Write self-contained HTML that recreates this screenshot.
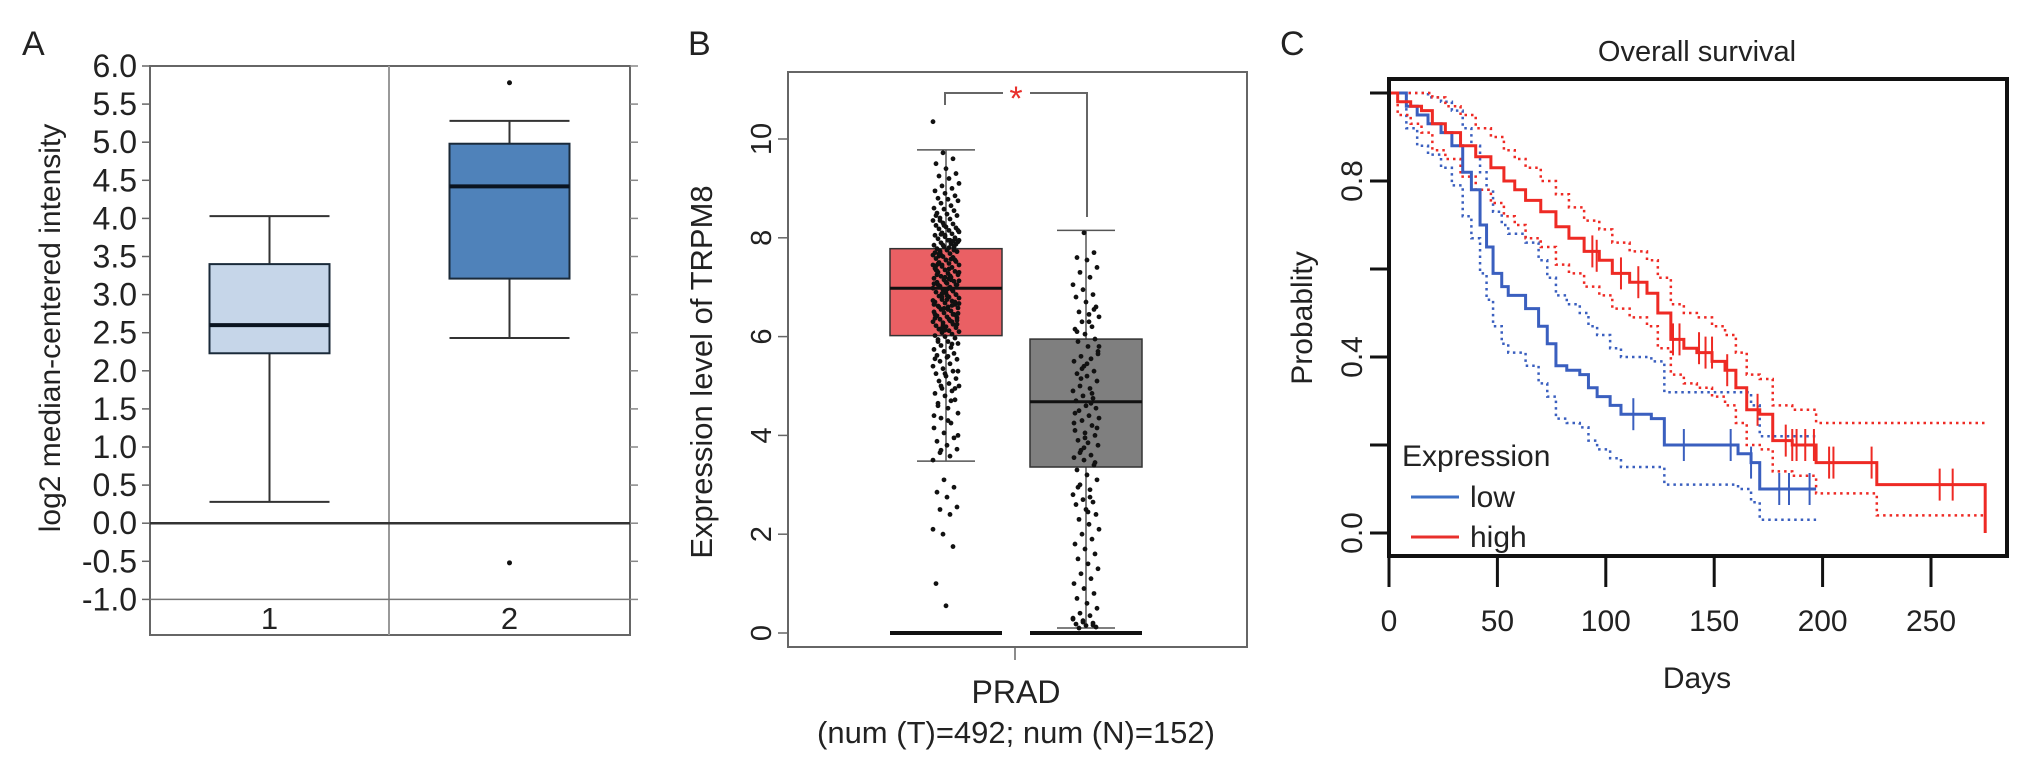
<!DOCTYPE html>
<html><head><meta charset="utf-8"><style>
html,body{margin:0;padding:0;background:#fff;}
svg{display:block;font-family:"Liberation Sans",Arial,sans-serif;}
</style></head><body>
<svg id="fig" width="2031" height="770" viewBox="0 0 2031 770">
<g id="panelA">
<text x="22" y="55" font-size="34" fill="#222">A</text>
<text transform="translate(60,328) rotate(-90)" text-anchor="middle" font-size="30" fill="#222">log2 median-centered intensity</text>
<g id="aAxis"></g>
<g id="aBoxes"></g>
</g>
<g id="panelB">
<text x="688" y="55" font-size="34" fill="#222">B</text>
<text transform="translate(712,372) rotate(-90)" text-anchor="middle" font-size="31" fill="#222">Expression level of TRPM8</text>
<g id="bAxis"></g>
<g id="bBoxes"></g>
<g id="bDots"></g>
<text x="1016" y="703" text-anchor="middle" font-size="32" fill="#222">PRAD</text>
<text x="1016" y="743" text-anchor="middle" font-size="31" fill="#222">(num (T)=492; num (N)=152)</text>
</g>
<g id="panelC">
<text x="1280" y="55" font-size="34" fill="#222">C</text>
<text x="1697" y="61" text-anchor="middle" font-size="29" fill="#222">Overall survival</text>
<text transform="translate(1312,318) rotate(-90)" text-anchor="middle" font-size="30" fill="#222">Probablity</text>
<text x="1697" y="688" text-anchor="middle" font-size="30" fill="#222">Days</text>
<g id="cCurves"></g>
<g id="cAxis"></g>
<g id="cLegend">
<text x="1402" y="466" font-size="30" fill="#222">Expression</text>
<line x1="1411" y1="497" x2="1459" y2="497" stroke="#3d6fc4" stroke-width="3"/>
<text x="1470" y="507" font-size="30" fill="#222">low</text>
<line x1="1411" y1="537" x2="1459" y2="537" stroke="#e8302c" stroke-width="3"/>
<text x="1470" y="547" font-size="30" fill="#222">high</text>
</g>
</g>
</svg>
<script>
var NS="http://www.w3.org/2000/svg";
function mk(parent,tag,attrs){var e=document.createElementNS(NS,tag);for(var k in attrs)e.setAttribute(k,attrs[k]);parent.appendChild(e);return e;}

var aTicks=["6.0","5.5","5.0","4.5","4.0","3.5","3.0","2.5","2.0","1.5","1.0","0.5","0.0","-0.5","-1.0"];
var aCategories=["1","2"];
var aWhiskerHigh=[4.03,5.28];
var aQ3=[3.40,4.98];
var aMedian=[2.60,4.42];
var aQ1=[2.23,3.21];
var aWhiskerLow=[0.28,2.43];
var aOutliers=[[],[5.78,-0.52]];
var aColors=["#c6d6e9","#4f82ba"];

var bTicks=[0,2,4,6,8,10];
var bGroups=["T","N"];
var bWhiskerHigh=[9.78,8.15];
var bQ3=[7.78,5.95];
var bMedian=[6.98,4.68];
var bQ1=[6.02,3.36];
var bWhiskerLow=[3.48,0.1];
var bColors=["#ea6064","#7f7f7f"];
var bTumor=[10.35,9.72,9.6,9.5,9.4,9.3,9.25,9.2,9.1,9.05,9.0,8.95,8.9,8.85,8.8,8.78,8.75,8.7,8.65,8.6,8.58,8.55,8.5,8.48,8.45,8.4,8.38,8.35,8.3,8.28,8.25,8.22,8.2,8.18,8.15,8.12,8.1,8.08,8.05,8.02,8.0,7.98,7.95,7.92,7.9,7.88,7.85,7.82,7.8,7.78,7.75,7.72,7.7,7.68,7.65,7.62,7.6,7.58,7.55,7.52,7.5,7.48,7.45,7.42,7.4,7.38,7.35,7.32,7.3,7.28,7.25,7.22,7.2,7.18,7.15,7.12,7.1,7.08,7.05,7.02,7.0,6.98,6.95,6.92,6.9,6.88,6.85,6.82,6.8,6.78,6.75,6.72,6.7,6.68,6.65,6.62,6.6,6.58,6.55,6.52,6.5,6.48,6.45,6.42,6.4,6.38,6.35,6.32,6.3,6.28,6.25,6.22,6.2,6.18,6.15,6.12,6.1,6.08,6.05,6.02,6.0,5.97,5.94,5.9,5.86,5.82,5.78,5.74,5.7,5.66,5.62,5.58,5.54,5.5,5.45,5.4,5.35,5.3,5.25,5.2,5.15,5.1,5.05,5.0,4.95,4.9,4.85,4.8,4.72,4.65,4.55,4.45,4.35,4.25,4.15,4.05,3.95,3.88,3.8,3.72,3.65,3.58,3.5,7.85,7.6,7.35,7.1,6.85,6.6,6.35,7.95,7.45,6.95,6.45,8.05,7.55,7.05,6.55,8.15,7.65,7.15,6.65,8.25,7.75,7.25,6.75,6.25,8.35,7.95,7.45,6.95,6.45,8.45,7.55,7.05,6.15,7.8,7.3,6.8,6.3,7.7,7.2,6.7,5.9,5.6,5.3,5.0,4.7,4.4,3.1,2.95,2.85,2.75,2.55,2.5,2.4,2.1,2.0,1.75,1.0,0.55,7.87,7.63,7.37,7.13,6.87,6.63,6.37,6.13,7.97,7.47,6.97,6.47,8.07,7.57,7.07,6.57,7.83,7.33,6.83,6.33,7.73,7.23,6.73,6.23,7.93,7.43,6.93,6.43,7.67,7.17,6.67,6.17,5.85,5.55,5.25,4.95,4.6,4.3,4.0,3.7];
var bNormal=[8.1,7.7,7.6,7.55,7.4,7.3,7.2,7.05,6.95,6.85,6.8,6.7,6.6,6.5,6.45,6.4,6.3,6.2,6.15,6.05,5.95,5.9,5.8,5.7,5.6,5.55,5.5,5.4,5.3,5.25,5.2,5.1,5.0,4.95,4.9,4.8,4.75,4.7,4.6,4.55,4.5,4.4,4.35,4.3,4.2,4.1,4.05,4.0,3.9,3.85,3.8,3.7,3.6,3.55,3.5,3.4,3.3,3.2,3.1,3.0,2.9,2.8,2.7,2.65,2.6,2.5,2.4,2.3,2.2,2.1,2.0,1.9,1.8,1.7,1.6,1.5,1.4,1.3,1.2,1.1,1.0,0.9,0.8,0.7,0.6,0.5,0.4,0.35,0.3,0.25,0.2,0.18,0.15,0.12,0.1,6.3,5.8,5.35,4.85,4.45,3.95,3.45,2.95,2.45,5.65,5.15,4.65,4.25,3.75,6.55,6.1,5.45,4.15,3.65,2.75,0.28,0.22,0.16];

var cXTicks=[0,50,100,150,200,250];
var cYTicks=[0,0.2,0.4,0.6,0.8,1.0];
var cYTickLabels=["0.0","","0.4","","0.8",""];
var lowDays=[0,8,13,18,24,29,34,38,42,45,48,52,55,63,69,73,77,82,88,92,96,102,107,121,127,161,167,171,197];
var lowSurv=[1.0,0.97,0.95,0.93,0.91,0.88,0.82,0.78,0.70,0.65,0.59,0.56,0.54,0.51,0.47,0.43,0.38,0.37,0.36,0.33,0.31,0.29,0.27,0.26,0.20,0.18,0.16,0.10,0.10];
var lowUpper=[1.0,1.0,1.0,0.99,0.98,0.96,0.92,0.88,0.82,0.78,0.73,0.70,0.68,0.66,0.62,0.58,0.54,0.52,0.50,0.47,0.45,0.42,0.40,0.39,0.32,0.32,0.29,0.22,0.22];
var lowLower=[1.0,0.92,0.88,0.86,0.83,0.79,0.72,0.67,0.59,0.53,0.47,0.43,0.41,0.38,0.34,0.31,0.26,0.25,0.24,0.21,0.19,0.17,0.15,0.15,0.11,0.10,0.07,0.03,0.03];
var lowCensor=[112.7,136,157.6,167,180,184.5,194];
var highDays=[0,4,10,15,20,26,33,40,47,53,58,63,70,77,83,90,97,103,111,119,124,130,136,142,149,155,160,165,171,177,186,197,225,275];
var highSurv=[1.0,0.98,0.97,0.96,0.93,0.91,0.88,0.855,0.83,0.80,0.78,0.756,0.73,0.696,0.67,0.64,0.62,0.59,0.57,0.545,0.50,0.44,0.42,0.41,0.39,0.37,0.33,0.28,0.27,0.21,0.20,0.16,0.11,0.0];
var highUpper=[1.0,1.0,1.0,1.0,0.99,0.97,0.95,0.92,0.90,0.87,0.85,0.83,0.80,0.77,0.74,0.71,0.69,0.66,0.64,0.62,0.58,0.52,0.50,0.49,0.47,0.45,0.41,0.36,0.35,0.29,0.28,0.25,0.25,0.25];
var highLower=[1.0,0.95,0.93,0.91,0.87,0.85,0.81,0.78,0.75,0.72,0.70,0.67,0.65,0.61,0.59,0.56,0.54,0.51,0.49,0.47,0.42,0.36,0.34,0.33,0.31,0.29,0.25,0.20,0.19,0.14,0.13,0.09,0.04,0.04];
var highCensor=[[93.8,0.64],[95.8,0.63],[107,0.59],[115,0.57],[131,0.44],[134,0.44],[143,0.42],[146,0.41],[149,0.41],[156,0.37],[170,0.28],[183,0.21],[186,0.20],[188,0.20],[192,0.20],[196,0.20],[203,0.16],[205,0.16],[222.6,0.16],[254,0.11],[260,0.11]];

(function(){
  var L=150,R=630,T=66,B=635,div=389;
  function y(v){return 66+(6-v)*76.2;}
  var ax=document.getElementById('aAxis');
  var fr=mk(ax,'rect',{x:L,y:T,width:R-L,height:B-T,fill:'none',stroke:'#666','stroke-width':2});
  
  
  var dv=mk(ax,'line',{x1:div,y1:T,x2:div,y2:B,stroke:'#999','stroke-width':2});
  
  
  aTicks.forEach(function(t){
    var v=parseFloat(t),yy=y(v);
    mk(ax,'line',{x1:L-8,y1:yy,x2:L,y2:yy,stroke:'#666','stroke-width':1.5});
    mk(ax,'line',{x1:R,y1:yy,x2:R+8,y2:yy,stroke:'#888','stroke-width':1.5});
    var tx=mk(ax,'text',{x:137,y:yy+11,'text-anchor':'end','font-size':32,fill:'#222'});
    tx.textContent=t;
    
    
  });
  var z=mk(ax,'line',{x1:L,y1:y(0),x2:R,y2:y(0),stroke:'#333','stroke-width':2.5});
  
  
  var m=mk(ax,'line',{x1:L,y1:y(-1),x2:R,y2:y(-1),stroke:'#777','stroke-width':1.5});
  
  
  var bx=document.getElementById('aBoxes');
  var centers=[(L+div)/2,(div+R)/2],hw=60;
  aCategories.forEach(function(c,i){
    var cx=centers[i];
    var g=mk(bx,'g',{});
    
    
    mk(g,'line',{x1:cx,y1:y(aWhiskerHigh[i]),x2:cx,y2:y(aQ3[i]),stroke:'#333','stroke-width':2});
    mk(g,'line',{x1:cx,y1:y(aQ1[i]),x2:cx,y2:y(aWhiskerLow[i]),stroke:'#333','stroke-width':2});
    mk(g,'line',{x1:cx-hw,y1:y(aWhiskerHigh[i]),x2:cx+hw,y2:y(aWhiskerHigh[i]),stroke:'#333','stroke-width':2});
    mk(g,'line',{x1:cx-hw,y1:y(aWhiskerLow[i]),x2:cx+hw,y2:y(aWhiskerLow[i]),stroke:'#333','stroke-width':2});
    mk(g,'rect',{x:cx-hw,y:y(aQ3[i]),width:2*hw,height:y(aQ1[i])-y(aQ3[i]),fill:aColors[i],stroke:'#1a2a3a','stroke-width':2});
    mk(g,'line',{x1:cx-hw,y1:y(aMedian[i]),x2:cx+hw,y2:y(aMedian[i]),stroke:'#0a1420','stroke-width':4});
    aOutliers[i].forEach(function(o){mk(g,'circle',{cx:cx,cy:y(o),r:2.5,fill:'#111'});});
    var lb=mk(bx,'text',{x:cx,y:629,'text-anchor':'middle','font-size':31,fill:'#222'});
    lb.textContent=c;
    
    
  });
})();

(function(){
  var L=788,R=1247,T=72,B=647;
  function y(v){return 633-v*49.4;}
  var ax=document.getElementById('bAxis');
  var fr=mk(ax,'rect',{x:L,y:T,width:R-L,height:B-T,fill:'none',stroke:'#666','stroke-width':2});
  
  
  bTicks.forEach(function(t){
    var yy=y(t);
    mk(ax,'line',{x1:L-10,y1:yy,x2:L,y2:yy,stroke:'#666','stroke-width':1.5});
    var tx=mk(ax,'text',{transform:'translate(771,'+yy+') rotate(-90)','text-anchor':'middle','font-size':29,fill:'#222'});
    tx.textContent=String(t);
    
    
  });
  mk(ax,'line',{x1:1015,y1:B,x2:1015,y2:B+13,stroke:'#666','stroke-width':1.5});
  var bx=document.getElementById('bBoxes');
  var centers=[946,1086],hw=56,cap=29;
  bGroups.forEach(function(gname,i){
    var cx=centers[i];
    var g=mk(bx,'g',{});
    
    
    mk(g,'line',{x1:cx,y1:y(bWhiskerHigh[i]),x2:cx,y2:y(bQ3[i]),stroke:'#555','stroke-width':1.5});
    mk(g,'line',{x1:cx,y1:y(bQ1[i]),x2:cx,y2:y(bWhiskerLow[i]),stroke:'#555','stroke-width':1.5});
    mk(g,'line',{x1:cx-cap,y1:y(bWhiskerHigh[i]),x2:cx+cap,y2:y(bWhiskerHigh[i]),stroke:'#555','stroke-width':1.5});
    mk(g,'line',{x1:cx-cap,y1:y(bWhiskerLow[i]),x2:cx+cap,y2:y(bWhiskerLow[i]),stroke:'#555','stroke-width':1.5});
    mk(g,'rect',{x:cx-hw,y:y(bQ3[i]),width:2*hw,height:y(bQ1[i])-y(bQ3[i]),fill:bColors[i],stroke:'#333','stroke-width':1.5});
    mk(g,'line',{x1:cx-hw,y1:y(bMedian[i]),x2:cx+hw,y2:y(bMedian[i]),stroke:'#111','stroke-width':3});
    mk(g,'line',{x1:cx-hw,y1:y(0),x2:cx+hw,y2:y(0),stroke:'#111','stroke-width':4});
  });
  var dots=document.getElementById('bDots');
  [bTumor,bNormal].forEach(function(arr,gi){
    var cx=centers[gi];
    arr.forEach(function(v,i){
      var j=(((i*37+gi*11)%27)-13);
      var c=mk(dots,'circle',{cx:cx+j,cy:y(v),r:2.4,fill:'#111'});
      
      
    });
  });
  var br=mk(ax,'path',{d:'M945,105 V93 H1003 M1030,93 H1087 V217',fill:'none',stroke:'#666','stroke-width':2});
  
  
  var st=mk(ax,'text',{x:1016,y:110,'text-anchor':'middle','font-size':34,fill:'#e8302c'});
  st.textContent='*';
  
  
})();

(function(){
  var L=1389,R=2007,T=79,B=556;
  function x(d){return 1389+d*2.168;}
  function y(p){return 533-p*440;}
  function step(days,vals){
    var s='M'+x(days[0])+','+y(vals[0]);
    for(var i=1;i<days.length;i++){s+=' H'+x(days[i])+' V'+y(vals[i]);}
    return s;
  }
  var cv=document.getElementById('cCurves');
  var pl=[['low',lowDays,lowSurv,lowUpper,lowLower,'#3a5fbf'],['high',highDays,highSurv,highUpper,highLower,'#ee2a24']];
  pl.forEach(function(p){
    var u=mk(cv,'path',{d:step(p[1],p[3]),fill:'none',stroke:p[5],'stroke-width':2.5,'stroke-dasharray':'2.5,4'});
    
    
    var lo=mk(cv,'path',{d:step(p[1],p[4]),fill:'none',stroke:p[5],'stroke-width':2.5,'stroke-dasharray':'2.5,4'});
    
    
  });
  pl.forEach(function(p){
    var c=mk(cv,'path',{d:step(p[1],p[2]),fill:'none',stroke:p[5],'stroke-width':3});
    
    
  });
  var lowLast=function(d){var v=lowSurv[0];for(var i=0;i<lowDays.length;i++){if(lowDays[i]<=d)v=lowSurv[i];}return v;};
  lowCensor.forEach(function(d){
    var m=mk(cv,'line',{x1:x(d),y1:y(lowLast(d))-16,x2:x(d),y2:y(lowLast(d))+16,stroke:'#3a5fbf','stroke-width':2});
    
    
  });
  highCensor.forEach(function(c){
    var m=mk(cv,'line',{x1:x(c[0]),y1:y(c[1])-16,x2:x(c[0]),y2:y(c[1])+16,stroke:'#ee2a24','stroke-width':2});
    
    
  });
  var ax=document.getElementById('cAxis');
  var fr=mk(ax,'rect',{x:L,y:T,width:R-L,height:B-T,fill:'none',stroke:'#111','stroke-width':4});
  
  
  cYTicks.forEach(function(t,i){
    mk(ax,'line',{x1:1370,y1:y(t),x2:L,y2:y(t),stroke:'#111','stroke-width':3});
    if(cYTickLabels[i]){
      var tx=mk(ax,'text',{transform:'translate(1362,'+y(t)+') rotate(-90)','text-anchor':'middle','font-size':30,fill:'#222'});
      tx.textContent=cYTickLabels[i];
      
      
    }
  });
  cXTicks.forEach(function(t){
    mk(ax,'line',{x1:x(t),y1:B,x2:x(t),y2:587,stroke:'#111','stroke-width':3});
    var tx=mk(ax,'text',{x:x(t),y:631,'text-anchor':'middle','font-size':30,fill:'#222'});
    tx.textContent=String(t);
    
    
  });
})();
</script>
</body></html>
